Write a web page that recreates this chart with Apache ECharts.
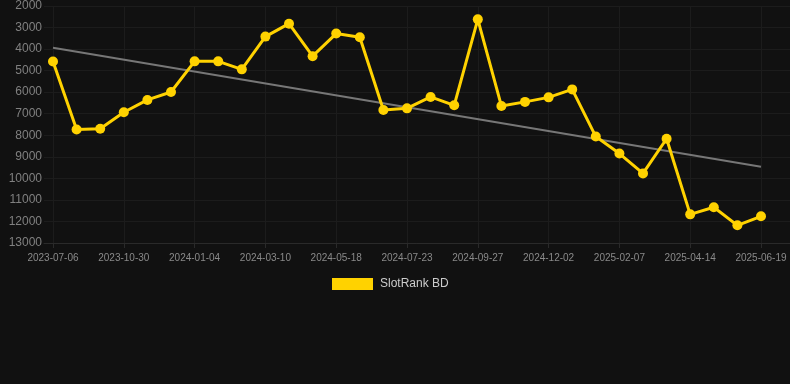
<!DOCTYPE html>
<html>
<head>
<meta charset="utf-8">
<script src="https://cdn.jsdelivr.net/npm/echarts@6/dist/echarts.min.js"></script>
<style>
html,body{margin:0;padding:0;background:#111111;}
#chart{width:790px;height:384px;}
</style>
</head>
<body>
<div id="chart"></div>
<script>
var categories = [
  '2023-07-06','2023-08-13','2023-09-21','2023-10-30','2023-11-21','2023-12-13',
  '2024-01-04','2024-01-26','2024-02-17','2024-03-10','2024-04-02','2024-04-25',
  '2024-05-18','2024-06-09','2024-07-01','2024-07-23','2024-08-14','2024-09-05',
  '2024-09-27','2024-10-19','2024-11-10','2024-12-02','2024-12-24','2025-01-16',
  '2025-02-07','2025-03-01','2025-03-23','2025-04-14','2025-05-06','2025-05-28',
  '2025-06-19'
];
var rankValues = [
  4580, 7730, 7700, 6930, 6360, 5990,
  4570, 4570, 4940, 3420, 2820, 4330,
  3280, 3450, 6830, 6750, 6220, 6610,
  2620, 6640, 6450, 6240, 5870, 8060,
  8850, 9770, 8160, 11670, 11340, 12180,
  11760
];
var trendStart = 3935;
var trendEnd = 9460;
var yTicks = {min: 2000, max: 13000, interval: 1000};
var seriesName = 'SlotRank BD';

var trendData = [[0, trendStart], [categories.length - 1, trendEnd]];

var chart = echarts.init(document.getElementById('chart'), null, {renderer: 'canvas'});
var gridLine = '#1c1c1c';
chart.setOption({
  backgroundColor: '#111111',
  animation: false,
  legend: {
    data: [seriesName],
    left: 332,
    top: 278,
    padding: 0,
    itemWidth: 41,
    itemHeight: 12,
    itemGap: 10,
    textStyle: {color: '#cccccc', fontSize: 12, padding: [0, 0, 0, 2], fontFamily: 'Liberation Sans, Arial, sans-serif'},
    icon: 'rect'
  },
  grid: [
    {left: 44, right: 0, top: 6, bottom: 141, containLabel: false},
    {left: 53, right: 29, top: 6, bottom: 141, containLabel: false}
  ],
  xAxis: [
    {gridIndex: 0, type: 'category', data: categories, position: 'bottom',
      axisLine: {show: true, onZero: false, lineStyle: {color: '#2a2a2a'}},
      axisTick: {show: false}, axisLabel: {show: false}, splitLine: {show: false}},
    {
      gridIndex: 1, type: 'category', data: categories, boundaryGap: false,
      axisLine: {show: false},
      axisTick: {show: true, interval: 2, length: 5, lineStyle: {color: '#2a2a2a'}},
      axisLabel: {interval: 2, color: '#8a8a8a', fontSize: 10, margin: 10,
        fontFamily: 'Liberation Sans, Arial, sans-serif'},
      splitLine: {show: true, interval: 2, lineStyle: {color: gridLine, width: 1}}
    }
  ],
  yAxis: [
    {
      gridIndex: 0, type: 'value', inverse: true,
      min: yTicks.min, max: yTicks.max, interval: yTicks.interval,
      axisLine: {show: false}, axisTick: {show: false},
      axisLabel: {color: '#808080', fontSize: 12, margin: 2,
        fontFamily: 'Liberation Sans, Arial, sans-serif',
        formatter: function (v) { return String(v); }},
      splitLine: {show: true, lineStyle: {color: gridLine, width: 1}}
    },
    {
      gridIndex: 1, type: 'value', inverse: true,
      min: yTicks.min, max: yTicks.max, interval: yTicks.interval,
      show: false, splitLine: {show: false}
    }
  ],
  series: [
    {
      name: 'trend', type: 'line', xAxisIndex: 1, yAxisIndex: 1,
      data: trendData, symbol: 'none', silent: true,
      lineStyle: {color: '#777777', width: 2}, z: 2
    },
    {
      name: seriesName, type: 'line', xAxisIndex: 1, yAxisIndex: 1,
      data: rankValues, symbol: 'circle', symbolSize: 10,
      itemStyle: {color: '#ffd200'},
      lineStyle: {color: '#ffd200', width: 3}, z: 3
    }
  ]
});
</script>
</body>
</html>
